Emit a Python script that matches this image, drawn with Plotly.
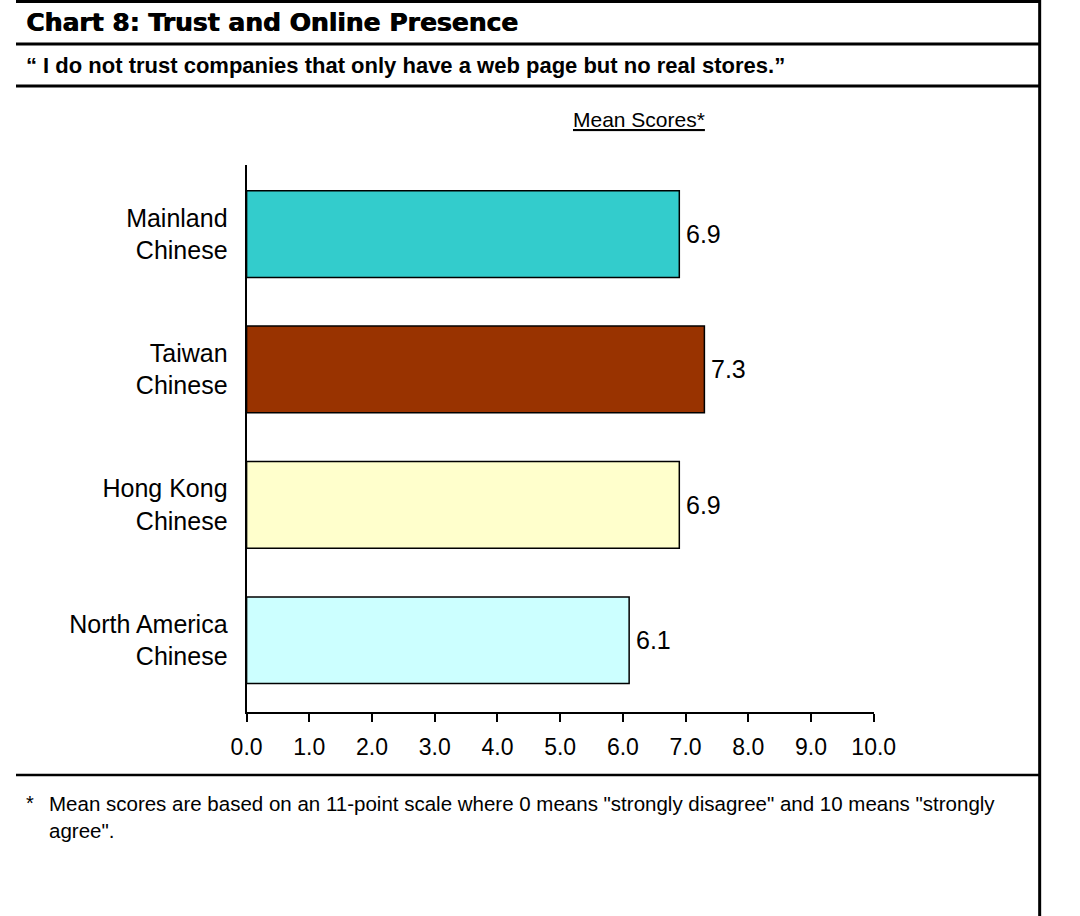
import plotly.graph_objects as go

# Survey groups, listed bottom-to-top as they appear on the category axis
groups = ["North America<br>Chinese", "Hong Kong<br>Chinese", "Taiwan<br>Chinese", "Mainland<br>Chinese"]
mean_scores = [6.1, 6.9, 7.3, 6.9]
bar_colors = ["#CCFFFF", "#FFFFCC", "#993300", "#33CCCC"]
x_tick_values = [0, 1, 2, 3, 4, 5, 6, 7, 8, 9, 10]
x_tick_labels = ["0.0", "1.0", "2.0", "3.0", "4.0", "5.0", "6.0", "7.0", "8.0", "9.0", "10.0"]

chart_title = "Chart 8: Trust and Online Presence"
statement = "\u201c I do not trust companies that only have a web page but no real stores.\u201d"
scale_title = "Mean Scores*"
footnote_lines = [
    "Mean scores are based on an 11-point scale where 0 means \"strongly disagree\" and 10 means \"strongly",
    "agree\".",
]

W, H = 1080, 916
FONT = "Liberation Sans, Arial, sans-serif"


def px_x(p):
    return p / W


def px_y(p):
    return 1 - p / H


fig = go.Figure(
    go.Bar(
        x=mean_scores,
        y=groups,
        orientation="h",
        marker=dict(color=bar_colors, line=dict(color="black", width=1.5)),
        hoverinfo="skip",
    )
)

fig.update_layout(
    width=W,
    height=H,
    margin=dict(l=0, r=0, t=0, b=0),
    paper_bgcolor="white",
    plot_bgcolor="white",
    showlegend=False,
    bargap=0.36,
    font=dict(family=FONT, color="black"),
    xaxis=dict(
        domain=[px_x(239), px_x(889)],
        range=[0, 10],
        tickvals=x_tick_values,
        ticktext=x_tick_labels,
        ticks="outside",
        ticklen=8,
        tickwidth=2,
        tickcolor="black",
        showline=True,
        linewidth=2,
        linecolor="black",
        showgrid=False,
        zeroline=False,
        tickfont=dict(family=FONT, size=23, color="black"),
        ticklabelstandoff=5,
        fixedrange=True,
    ),
    yaxis=dict(
        domain=[px_y(712), px_y(165)],
        range=[-0.53, 3.51],
        showline=True,
        linewidth=2,
        linecolor="black",
        showgrid=False,
        zeroline=False,
        ticks="",
        tickfont=dict(family=FONT, size=25, color="black"),
        ticklabelstandoff=12,
        fixedrange=True,
    ),
)

# Frame: header rows, right border and footnote divider
line_k = dict(color="black", width=3)
shapes = [
    dict(type="line", xref="paper", yref="paper", x0=0, x1=px_x(1061), y0=px_y(1.5), y1=px_y(1.5), line=line_k),
    dict(type="line", xref="paper", yref="paper", x0=0, x1=px_x(1061), y0=px_y(44), y1=px_y(44), line=line_k),
    dict(type="line", xref="paper", yref="paper", x0=0, x1=px_x(1061), y0=px_y(86), y1=px_y(86), line=line_k),
    dict(type="line", xref="paper", yref="paper", x0=px_x(1061), x1=px_x(1061), y0=px_y(0), y1=px_y(H), line=line_k),
    dict(type="line", xref="paper", yref="paper", x0=0, x1=px_x(1061), y0=px_y(775), y1=px_y(775),
         line=dict(color="black", width=2.5)),
]
fig.update_layout(shapes=shapes)

annotations = [
    dict(text=f"<b>{chart_title}</b>", x=px_x(8), y=px_y(23), xanchor="left", yanchor="middle",
         font=dict(family="DejaVu Sans", size=25, color="black", shadow="0.8px 0 0 black")),
    dict(text=f"<b>{statement}</b>", x=px_x(8), y=px_y(65), xanchor="left", yanchor="middle",
         font=dict(family=FONT, size=22, color="black")),
    dict(text=f"<u>{scale_title}</u>", x=px_x(646), y=px_y(120), xanchor="center", yanchor="middle",
         font=dict(family=FONT, size=21, color="black")),
    dict(text="*", x=px_x(8), y=px_y(803), xanchor="left", yanchor="middle",
         font=dict(family=FONT, size=20, color="black")),
    dict(text=footnote_lines[0], x=px_x(32), y=px_y(803), xanchor="left", yanchor="middle",
         font=dict(family=FONT, size=20.5, color="black")),
    dict(text=footnote_lines[1], x=px_x(32), y=px_y(830), xanchor="left", yanchor="middle",
         font=dict(family=FONT, size=20.5, color="black")),
]
for a in annotations:
    a.update(xref="paper", yref="paper", showarrow=False)

# Value labels placed just past the end of each bar
for g, v in zip(groups, mean_scores):
    annotations.append(dict(
        x=v, y=g, xref="x", yref="y", text=f"{v:.1f}", showarrow=False,
        xanchor="left", yanchor="middle", xshift=5,
        font=dict(family=FONT, size=25, color="black"),
    ))
fig.update_layout(annotations=annotations)

fig.write_html("out.html")
